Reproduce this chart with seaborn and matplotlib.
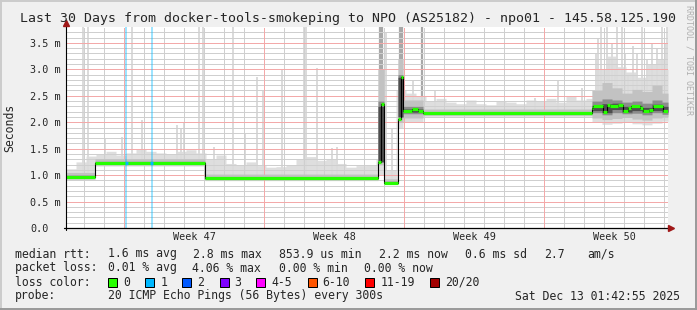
import numpy as np
import pandas as pd
import matplotlib
matplotlib.use("Agg")
import matplotlib.pyplot as plt
from matplotlib.patches import Rectangle
from matplotlib.lines import Line2D
import seaborn as sns

# ---------------- data (x = days from start of the 30-day window) ----------------
median_x = [0.0, 1.45, 6.95, 15.6, 15.75, 15.9, 16.6, 16.775, 16.85, 17.3, 17.6, 17.85,
            26.3, 26.35, 26.85, 27.05, 27.2, 27.6, 27.85, 28.1, 28.25, 28.7, 28.85,
            29.15, 29.35, 29.85]
median_y = [0.97, 1.23, 0.94, 1.25, 2.34, 0.86, 2.07, 2.85, 2.21, 2.25, 2.21, 2.17,
            2.26, 2.30, 2.20, 2.32, 2.30, 2.33, 2.21, 2.26, 2.30, 2.27, 2.22,
            2.24, 2.30, 2.22]

# smoke bands (step segments)
band_x = [0.0, 1.45, 6.95, 15.6, 15.9, 16.6, 16.85, 17.85,
          26.3, 26.8, 27.3, 27.8, 28.3, 28.8, 29.3, 29.8]
out_lo = [0.90, 1.17, 0.895, 1.00, 0.83, 1.90, 2.00, 2.11,
          2.00, 1.96, 1.98, 2.00, 1.97, 1.95, 1.98, 2.02]
mid_lo = [0.93, 1.20, 0.915, 1.20, 0.845, 2.00, 2.08, 2.13,
          2.08, 2.05, 2.07, 2.09, 2.06, 2.04, 2.08, 2.10]
in_lo = [0.95, 1.215, 0.925, 1.25, 0.85, 2.10, 2.16, 2.155,
         2.18, 2.14, 2.18, 2.16, 2.17, 2.14, 2.18, 2.15]
core_lo = [0.96, 1.22, 0.93, 1.25, 0.855, 2.10, 2.19, 2.16,
           2.22, 2.18, 2.24, 2.19, 2.22, 2.19, 2.22, 2.19]
core_hi = [0.99, 1.245, 0.955, 2.30, 0.875, 2.85, 2.25, 2.185,
           2.32, 2.35, 2.36, 2.30, 2.32, 2.28, 2.34, 2.30]
in_hi = [1.00, 1.26, 0.965, 2.40, 0.885, 2.90, 2.30, 2.20,
         2.40, 2.44, 2.42, 2.38, 2.40, 2.36, 2.42, 2.38]
mid_hi = [1.05, 1.31, 1.02, 3.00, 0.93, 3.20, 2.42, 2.25,
          2.60, 2.75, 2.65, 2.55, 2.62, 2.58, 2.70, 2.55]

# upper edge of light smoke, half-day bins
top_bins = [1.12, 1.25, 1.36,
            1.40, 1.45, 1.38, 1.42, 1.50, 1.45, 1.42, 1.40, 1.45, 1.48, 1.42,
            1.30, 1.38, 1.22, 1.20, 1.25, 1.18, 1.15, 1.16, 1.20, 1.30, 1.35, 1.28,
            1.30, 1.22, 1.15, 1.18, 1.20,
            1.30, 1.10, 2.60, 2.55, 2.50,
            2.40, 2.45, 2.38, 2.35, 2.42, 2.35, 2.33, 2.40, 2.38, 2.35, 2.42, 2.40,
            2.45, 2.38, 2.50, 2.42, 2.45,
            3.00, 3.25, 3.05, 2.95, 2.85, 3.10, 3.20, 3.00]

# individual smoke spikes
spike_x = [0.85, 1.10, 1.95, 2.80, 3.30, 3.80, 5.55, 5.75, 5.90, 6.65, 6.85, 7.40,
           8.35, 8.95, 9.55, 9.85, 10.80, 11.90, 12.00, 12.55, 13.30, 13.55,
           15.70, 15.80, 16.00, 16.30, 16.70, 16.80, 17.35, 17.80,
           18.45, 23.45, 24.60, 25.80,
           26.50, 26.60, 26.75, 27.05, 27.15, 27.30, 27.45, 27.55, 27.80, 27.95,
           28.10, 28.35, 28.55, 28.80, 29.05, 29.30, 29.55, 29.80, 29.95, 30.05]
spike_top = [3.8, 3.8, 1.70, 1.72, 3.8, 2.05, 1.95, 1.90, 2.00, 3.8, 3.8, 1.53,
             3.8, 1.80, 2.85, 2.60, 3.00, 3.8, 3.8, 3.03, 1.52, 1.53,
             3.8, 3.8, 3.70, 1.90, 3.8, 3.8, 2.80, 3.8,
             2.61, 2.45, 2.80, 2.65,
             3.30, 3.60, 3.8, 3.8, 3.20, 3.50, 3.00, 3.8, 3.8, 3.30,
             2.90, 3.45, 3.30, 3.8, 3.20, 3.50, 3.40, 3.8, 3.50, 3.8]
spike_dark = [0, 0, 0, 0, 0, 0, 0, 0, 0, 0, 0, 0,
              0, 0, 0, 0, 0, 0, 0, 0, 0, 0,
              1, 1, 0, 0, 1, 1, 0, 1,
              0, 0, 0, 0,
              0, 0, 0, 0, 0, 0, 0, 0, 0, 0,
              0, 0, 0, 0, 0, 0, 0, 0, 0, 0]

loss_x = [3.025, 4.275]          # samples with 1 lost ping

week_start = [2.915, 9.915, 16.915, 23.915]
week_mid = [6.415, 13.415, 20.415, 27.415]
week_labels = ["Week 47", "Week 48", "Week 49", "Week 50"]
ytick_vals = [0.0, 0.5, 1.0, 1.5, 2.0, 2.5, 3.0, 3.5]
ytick_labels = ["0.0", "0.5 m", "1.0 m", "1.5 m", "2.0 m", "2.5 m", "3.0 m", "3.5 m"]

loss_names = ["0", "1", "2", "3", "4-5", "6-10", "11-19", "20/20"]
loss_cols = ["#26ff00", "#00b8ff", "#0059ff", "#7e00ff", "#ff00ff", "#ff5500", "#ff0000", "#a10000"]
loss_box_x = [108, 145.3, 182.2, 219.6, 256.4, 307.6, 365.3, 430.2]

rtt_items = [(15, "median rtt:"), (107.5, "1.6 ms avg"), (193, "2.8 ms max"), (279, "853.9 us min"),
             (379, "2.2 ms now"), (465, "0.6 ms sd"), (544, "2.7"), (587, "am/s")]
loss_items = [(15, "packet loss:"), (107.5, "0.01 % avg"), (192, "4.06 % max"),
              (279, "0.00 % min"), (364, "0.00 % now")]
title = "Last 30 Days from docker-tools-smokeping to NPO (AS25182) - npo01 - 145.58.125.190"

# ---------------- styling ----------------
sns.set_style("white")
plt.rcParams["font.family"] = ["DejaVu Sans Mono"]
MONO = "DejaVu Sans Mono"

W, H = 697, 310
L, R, T, B = 66, 668, 27, 228
XMAX, YMAX = 30.1, 3.8

fig = plt.figure(figsize=(W / 100, H / 100), dpi=100, facecolor="#f0f0f0")
ax = fig.add_axes([L / W, 1 - B / H, (R - L) / W, (B - T) / H])
ax.set_facecolor("white")
ax.set_xlim(0, XMAX)
ax.set_ylim(0, YMAX)
for s in ax.spines.values():
    s.set_visible(False)


def step_lookup(bx, by, x):
    bx = np.asarray(bx, float)
    by = np.asarray(by, float)
    i = np.searchsorted(bx, x, side="right") - 1
    return by[np.clip(i, 0, len(by) - 1)]


xs = np.arange(0, 603) / 20.0
top_edges = np.arange(len(top_bins)) * 0.5
s_mid_hi = step_lookup(band_x, mid_hi, xs)
s_out_hi = np.maximum(step_lookup(top_edges, top_bins, xs), s_mid_hi)

# spikes
sx = np.asarray(spike_x)
base = step_lookup(median_x, median_y, sx)
dark = np.asarray(spike_dark) == 1
ax.vlines(sx[~dark], base[~dark], np.asarray(spike_top)[~dark], colors="#d4d4d4", lw=1.2, zorder=1)
ax.vlines(sx[dark], base[dark], np.asarray(spike_top)[dark], colors="#a8a8a8", lw=1.6, zorder=1)

# grid (under the smoke, rrdtool style dotted)
dot = (0, (1, 1))
for v in np.arange(1, 38) / 10.0:
    if abs(v * 2 - round(v * 2)) < 1e-6:
        continue
    ax.axhline(v, color="#cfcfcf", lw=0.72, ls=dot, zorder=1.5, antialiased=False)
for v in ytick_vals[1:]:
    ax.axhline(v, color="#f3a9a9", lw=0.72, ls=dot, zorder=1.55, antialiased=False)
day_lines = [week_start[0] + k for k in range(-2, 28) if 0 < week_start[0] + k < XMAX]
for v in day_lines:
    if min(abs(v - w) for w in week_start) < 1e-6:
        continue
    ax.axvline(v, color="#cfcfcf", lw=0.72, ls=dot, zorder=1.5, antialiased=False)
for v in week_start:
    ax.axvline(v, color="#f3a9a9", lw=0.72, ls=dot, zorder=1.55, antialiased=False)

# smoke bands
ax.fill_between(xs, step_lookup(band_x, out_lo, xs), s_out_hi, step="post",
                color="#dcdcdc", lw=0, zorder=1.2, alpha=0.92)
ax.fill_between(xs, step_lookup(band_x, mid_lo, xs), s_mid_hi, step="post",
                color="#c2c2c2", lw=0, zorder=1.6)
ax.fill_between(xs, step_lookup(band_x, in_lo, xs), step_lookup(band_x, in_hi, xs), step="post",
                color="#8c8c8c", lw=0, zorder=1.7)
ax.fill_between(xs, step_lookup(band_x, core_lo, xs), step_lookup(band_x, core_hi, xs), step="post",
                color="#4e4e4e", lw=0, zorder=1.75)

# loss background
for v in loss_x:
    ax.axvline(v, color="#00b8ff", alpha=0.38, lw=1.44, zorder=1.8)

# median: thin black step line + coloured horizontal segments
med_df = pd.DataFrame({"t": median_x + [XMAX], "rtt": median_y + [median_y[-1]]})
sns.lineplot(data=med_df, x="t", y="rtt", drawstyle="steps-post", color="black",
             lw=0.8, ax=ax, legend=False, zorder=3)
ends = median_x[1:] + [XMAX]
ax.hlines(median_y, median_x, ends, colors="#26ff00", lw=2.3, zorder=4)
ly = step_lookup(median_x, median_y, np.asarray(loss_x))
ax.hlines(ly, np.asarray(loss_x) - 0.06, np.asarray(loss_x) + 0.06, colors="#00b8ff", lw=2.3, zorder=5)

ax.set_xlabel("")
ax.set_ylabel("")

# ticks
ax.set_xticks(week_start)
ax.set_xticklabels([])
ax.set_xticks([v for v in day_lines], minor=True)
ax.tick_params(axis="x", which="major", length=2.5, width=0.72, color="#ff6060", direction="out")
ax.tick_params(axis="x", which="minor", length=1.5, width=0.72, color="#909090", direction="out")
ax.set_yticks(ytick_vals)
ax.set_yticklabels(ytick_labels, fontsize=7.3, family=MONO, ha="left")
ax.tick_params(axis="y", length=0, pad=25.9)
for lab, xm in zip(week_labels, week_mid):
    ax.text(xm, -(237.5 - B) / (B - T), lab, transform=ax.get_xaxis_transform(),
            ha="center", va="center", fontsize=7.3, family=MONO, clip_on=False)

# axes with arrows
ax.plot([0, 0], [-2 / (B - T), (B - 22) / (B - T)], transform=ax.transAxes, color="black",
        lw=0.8, clip_on=False, zorder=6)
ax.plot([-2 / (R - L), (670 - L) / (R - L)], [0, 0], transform=ax.transAxes, color="black",
        lw=0.9, clip_on=False, zorder=6)
ax.plot([0], [(B - 23.5) / (B - T)], marker="^", ms=4.5, color="#a01818", mec="#a01818",
        transform=ax.transAxes, clip_on=False, zorder=7)
ax.plot([(670.5 - L) / (R - L)], [0], marker=">", ms=4.5, color="#a01818", mec="#a01818",
        transform=ax.transAxes, clip_on=False, zorder=7)

# ---------------- texts around ----------------
def fx(x):
    return x / W


def fy(y):
    return 1 - y / H


fig.text(fx(347.5), fy(18.5), title, ha="center", va="center", fontsize=9.5, family=MONO)
fig.text(fx(10), fy(128), "Seconds", rotation=90, ha="center", va="center", fontsize=8.3, family=MONO)
fig.text(fx(689), fy(5), "RRDTOOL / TOBI OETIKER", rotation=-90, ha="center", va="top",
         fontsize=6, family=MONO, color="#b0b0b0")

row_y = [254, 268, 282, 296]
for x, t in rtt_items:
    fig.text(fx(x), fy(row_y[0]), t, ha="left", va="center", fontsize=8.3, family=MONO)
for x, t in loss_items:
    fig.text(fx(x), fy(row_y[1]), t, ha="left", va="center", fontsize=8.3, family=MONO)
fig.text(fx(15), fy(row_y[2]), "loss color:", ha="left", va="center", fontsize=8.3, family=MONO)
for bx, name, col in zip(loss_box_x, loss_names, loss_cols):
    fig.add_artist(Rectangle((fx(bx), fy(row_y[2] + 4.5)), 9 / W, 9 / H, transform=fig.transFigure,
                             facecolor=col, edgecolor="black", lw=0.72))
    fig.text(fx(bx + 15), fy(row_y[2]), name, ha="left", va="center", fontsize=8.3, family=MONO)
fig.text(fx(15), fy(row_y[3]), "probe:", ha="left", va="center", fontsize=8.3, family=MONO)
fig.text(fx(107.5), fy(row_y[3]), "20 ICMP Echo Pings (56 Bytes) every 300s", ha="left",
         va="center", fontsize=8.3, family=MONO)
fig.text(fx(680), fy(row_y[3]), "Sat Dec 13 01:42:55 2025", ha="right", va="center",
         fontsize=8.3, family=MONO)

# 3-D frame
fig.add_artist(Line2D([0, 1], [fy(0.5), fy(0.5)], transform=fig.transFigure, color="#cbcbcb", lw=1.4))
fig.add_artist(Line2D([fx(0.5), fx(0.5)], [0, 1], transform=fig.transFigure, color="#cbcbcb", lw=1.4))
fig.add_artist(Line2D([0, 1], [fy(309), fy(309)], transform=fig.transFigure, color="#999999", lw=1.4))
fig.add_artist(Line2D([fx(696), fx(696)], [0, 1], transform=fig.transFigure, color="#999999", lw=1.4))

fig.savefig("out.png", dpi=100, facecolor=fig.get_facecolor())
